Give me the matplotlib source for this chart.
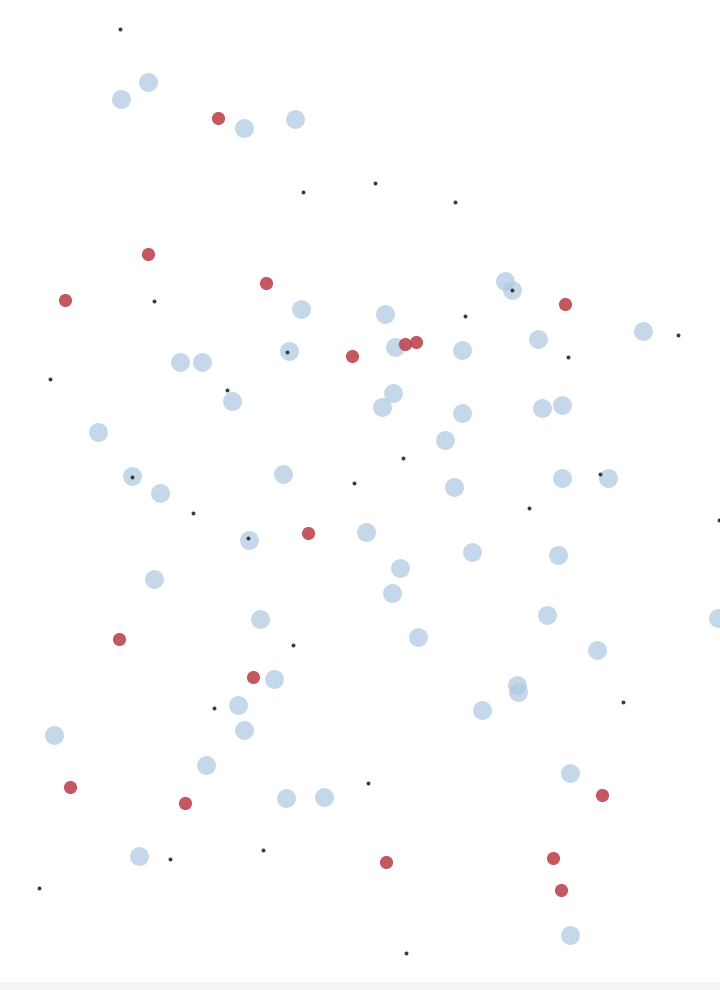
import matplotlib
matplotlib.use('Agg')
import matplotlib.pyplot as plt

# blue (large, pale) points, pixel-like coords
blue_x = [121, 148, 244, 295, 505, 512, 301, 385, 395, 462, 538, 643,
          180, 202, 289, 232, 382, 393, 462, 445, 542, 562, 98, 132, 160,
          283, 454, 562, 608, 249, 366, 472, 558, 400, 392, 154, 547, 260,
          418, 597, 718, 274, 238, 244, 517, 518, 482, 54, 206, 570, 286,
          324, 139, 570]
blue_y = [99, 82, 128, 119, 281, 290, 309, 314, 347, 350, 339, 331,
          362, 362, 351, 401, 407, 393, 413, 440, 408, 405, 432, 476, 493,
          474, 487, 478, 478, 540, 532, 552, 555, 568, 593, 579, 615, 619,
          637, 650, 618, 679, 705, 730, 685, 692, 710, 735, 765, 773, 798,
          797, 856, 935]
# red points
red_x = [218, 148, 266, 65, 565, 352, 405, 416, 308, 119, 253, 70, 185,
         602, 386, 553, 561]
red_y = [118, 254, 283, 300, 304, 356, 344, 342, 533, 639, 677, 787, 803,
         795, 862, 858, 890]
# small black dots
dot_x = [120, 303, 375, 455, 154, 465, 678, 568, 50, 227, 403, 354, 193,
         529, 719, 293, 623, 214, 368, 170, 263, 39, 406, 287, 132, 248,
         600, 512]
dot_y = [29, 192, 183, 202, 301, 316, 335, 357, 379, 390, 458, 483, 513,
         508, 520, 645, 702, 708, 783, 859, 850, 888, 953, 352, 477, 538,
         474, 290]

fig = plt.figure(figsize=(7.2, 9.9), dpi=100)
ax = fig.add_axes([0, 0, 1, 1])
ax.set_xlim(0, 720)
ax.set_ylim(990, 0)
ax.axis('off')

# faint strip at the bottom edge
ax.axhspan(982, 990, color='#f7f3f3', lw=0)

ax.scatter(blue_x, blue_y, s=185, color='#b0cbe4', alpha=0.75, lw=0)
ax.scatter(red_x, red_y, s=90, color='#bd4650', alpha=0.9, lw=0)
ax.scatter(dot_x, dot_y, s=8, color='#3a3a3a', lw=0)

fig.savefig('out.png', dpi=100)
plt.close()
